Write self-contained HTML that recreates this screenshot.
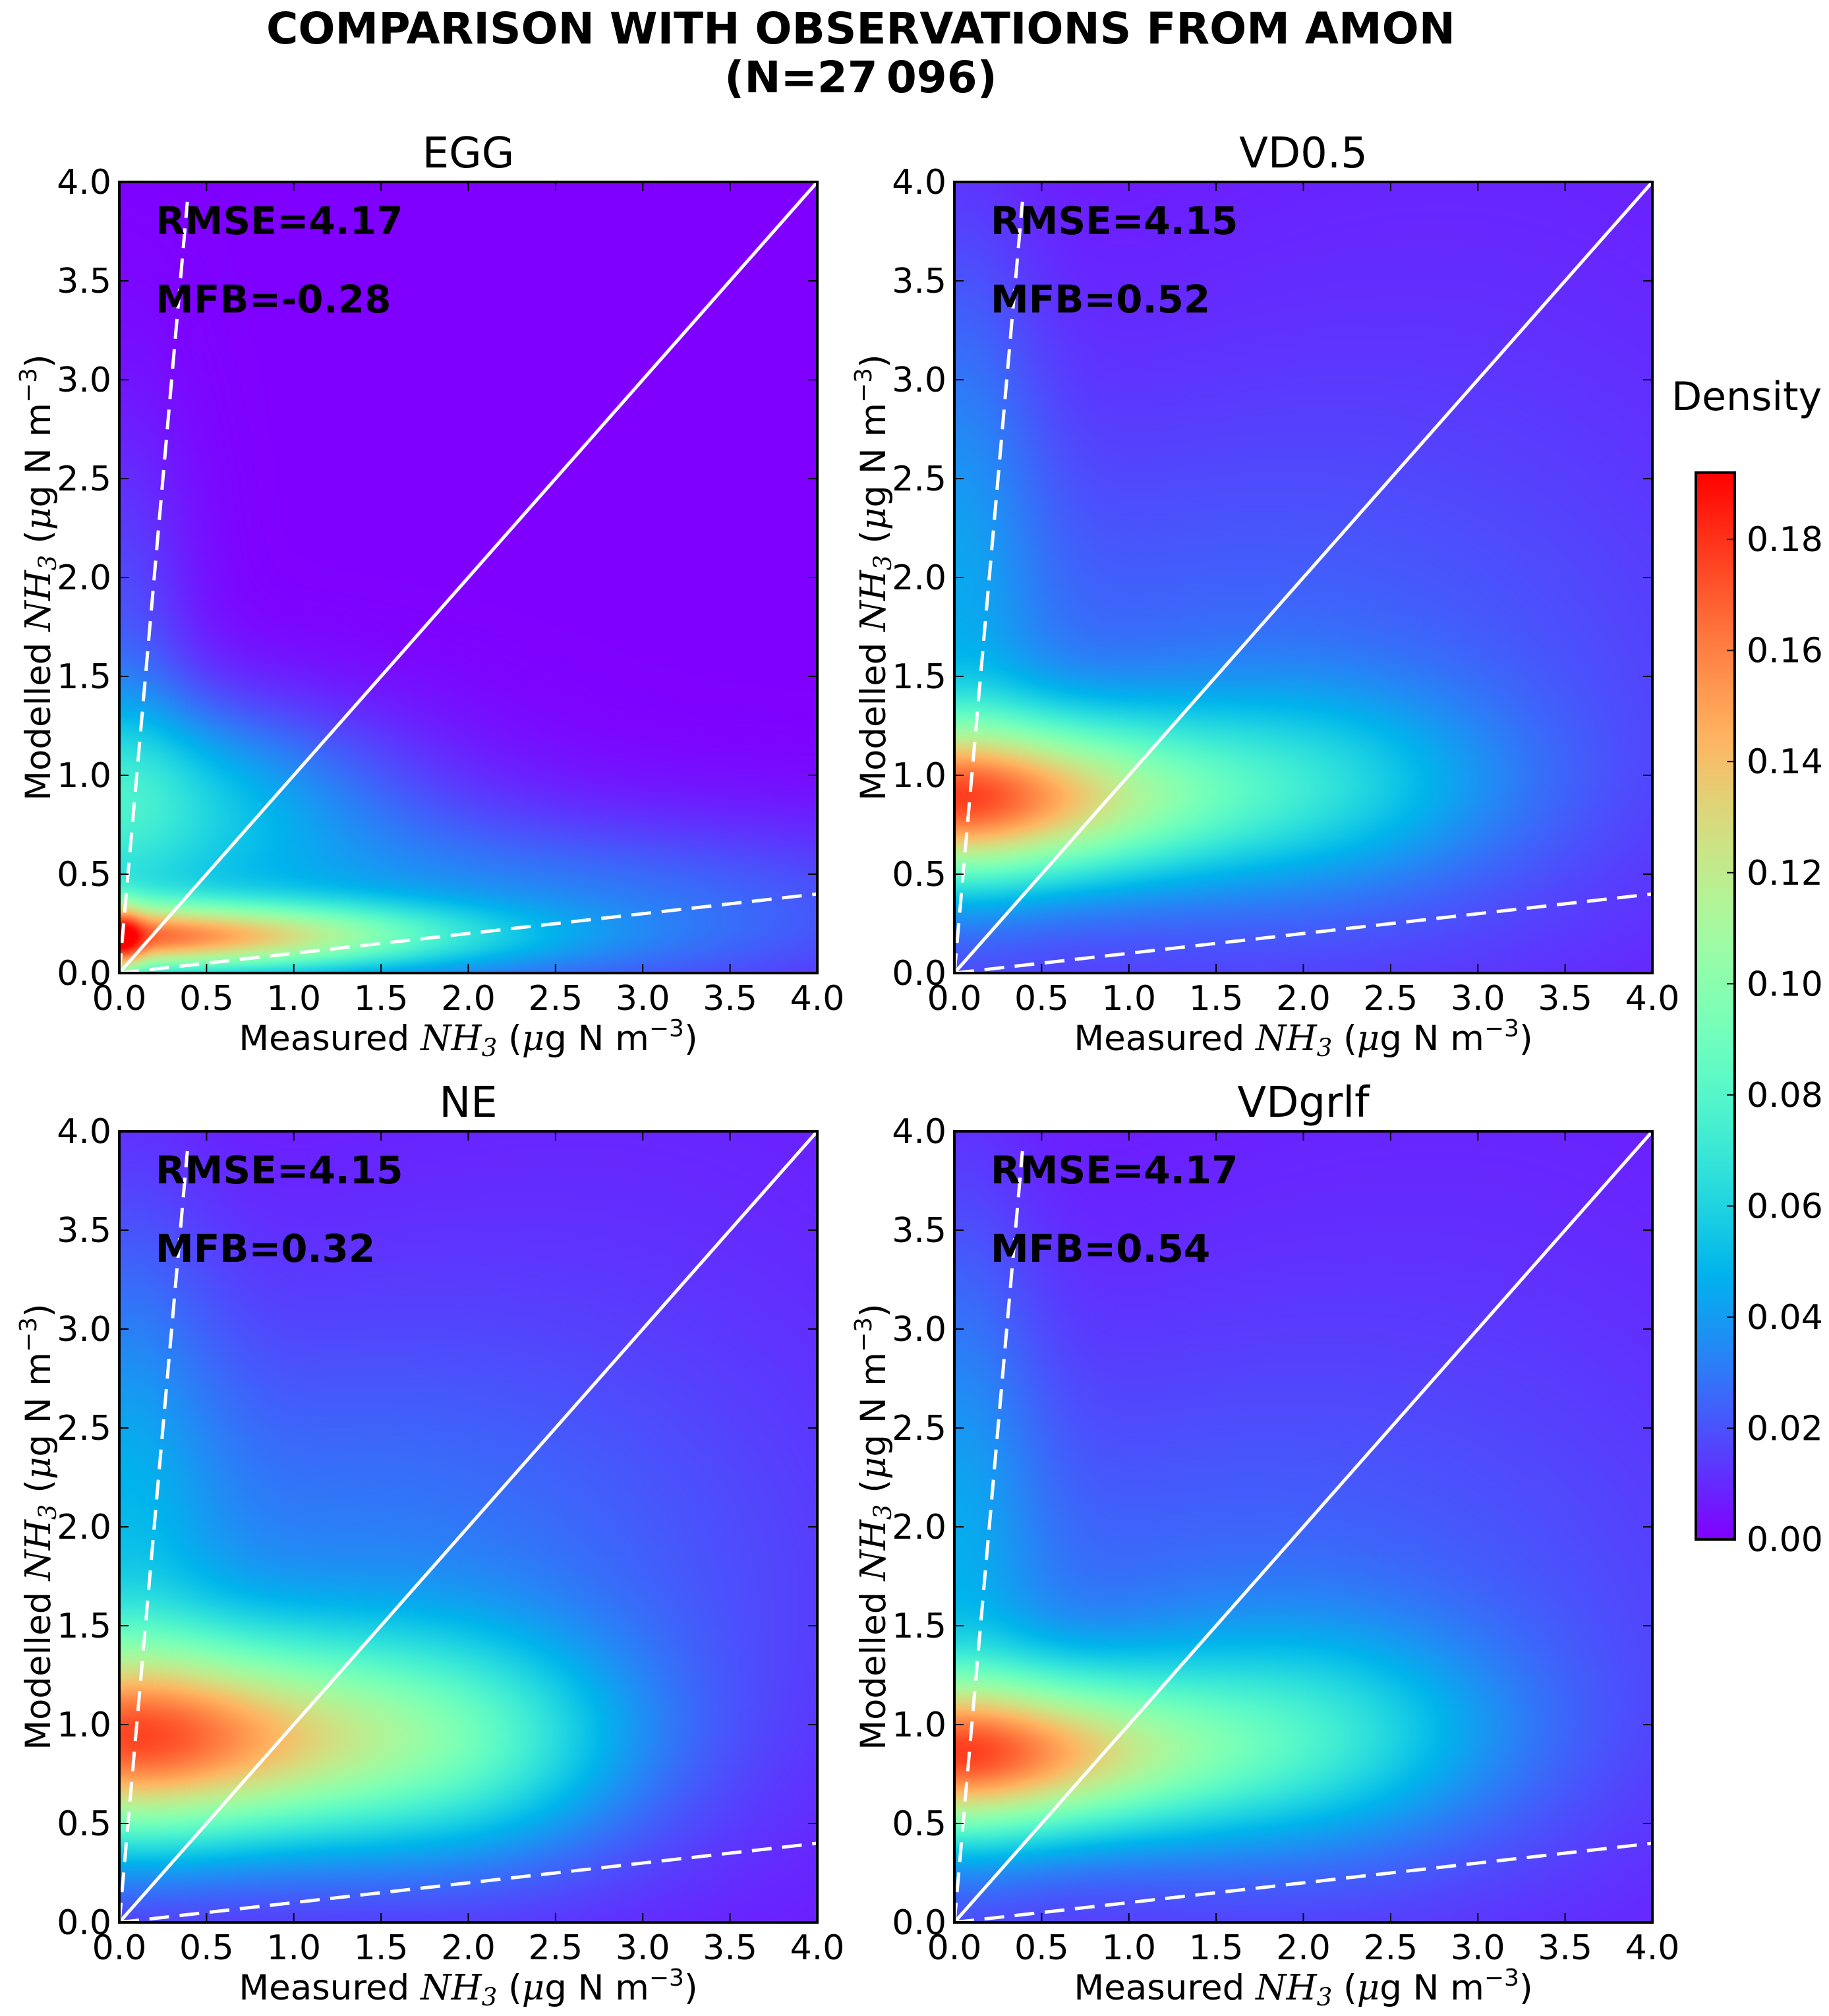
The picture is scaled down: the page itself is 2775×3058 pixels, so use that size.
<!DOCTYPE html>
<html><head><meta charset="utf-8"><style>
html,body{margin:0;padding:0;background:#fff;}
#wrap{position:relative;width:2775px;height:3058px;overflow:hidden;font-family:"DejaVu Sans","Liberation Sans",sans-serif;}
canvas{position:absolute;}
svg{position:absolute;left:0;top:0;font-family:"DejaVu Sans","Liberation Sans",sans-serif;}
</style></head><body>
<div id="wrap">
<svg id="svg" width="2775" height="3058"></svg>
</div>
<script>
// ---- data ----
const panelTitles = ["EGG","VD0.5","NE","VDgrlf"];
const rmseValues = ["4.17","4.15","4.15","4.17"];
const mfbValues = ["-0.28","0.52","0.32","0.54"];
const xTicks = [0,0.5,1,1.5,2,2.5,3,3.5,4];
const yTicks = [0,0.5,1,1.5,2,2.5,3,3.5,4];
const cbTicks = [0,0.02,0.04,0.06,0.08,0.10,0.12,0.14,0.16,0.18];
const cbMax = 0.192;
// density components per panel: [xCenter, yCenter, sx, sy, amplitude]
const compEGG = [[0,0.18,1.2,0.12,0.13],[0,0.9,1.0,0.35,0.055],[1.8,0.3,2.2,0.35,0.035],[0,1.5,0.3,0.9,0.02],[0.02,0.15,0.08,0.15,0.04]];
const compVD05 = [[0,0.88,0.9,0.28,0.14],[2.0,0.95,0.8,0.35,0.035],[1.0,1.2,2.2,1.1,0.02],[0,2.2,0.35,1.2,0.025],[3,2.5,2.5,2.5,0.01]];
const compNE = [[0.1,0.92,1.05,0.35,0.14],[2.0,0.9,0.7,0.4,0.04],[1.0,1.6,1.8,1.0,0.025],[0,2.2,0.4,1.1,0.025],[3,2.5,2.5,2.5,0.01]];
const compVDg = [[0,0.85,0.95,0.28,0.14],[2.0,0.95,0.8,0.38,0.04],[1.0,1.3,2.2,1.1,0.02],[0,2.1,0.35,1.2,0.025],[3,2.5,2.5,2.5,0.01]];
const panelComps = [compEGG, compVD05, compNE, compVDg];
// ---- layout ----
const panels = [{l:181,t:276},{l:1448,t:276},{l:181,t:1716},{l:1448,t:1716}];
const W=1059,H=1200;
const NS="http://www.w3.org/2000/svg";
const svg=document.getElementById('svg');
function mk(tag,attrs,parent){const e=document.createElementNS(NS,tag);for(const k in attrs)e.setAttribute(k,attrs[k]);(parent||svg).appendChild(e);return e;}
function rainbow(v){let x=Math.max(0,Math.min(1,v/cbMax));const r=Math.min(1,Math.abs(2*x-0.5)),g=Math.sin(Math.PI*x),b=Math.cos(Math.PI*x/2);return [r*255,g*255,b*255];}
function density(comps,x,y){let d=0;for(const c of comps){const dx=(x-c[0])/c[2],dy=(y-c[1])/c[3];d+=c[4]*Math.exp(-0.5*(dx*dx+dy*dy));}return d;}

let t=mk('text',{x:1306,y:66,'text-anchor':'middle','font-size':66,'font-weight':'bold'});t.textContent='COMPARISON WITH OBSERVATIONS FROM AMON';

t=mk('text',{x:1306,y:140,'text-anchor':'middle','font-size':66,'font-weight':'bold'});t.textContent='(N=27\u2009096)';


panels.forEach((p,i)=>{
  const sx=v=>p.l+v/4*W, sy=v=>p.t+H-v/4*H;
  const cv=document.createElement('canvas');
  
  
  const gw=265,gh=300;cv.width=gw;cv.height=gh;
  cv.style.left=p.l+'px';cv.style.top=p.t+'px';cv.style.width=W+'px';cv.style.height=H+'px';
  const ctx=cv.getContext('2d');const img=ctx.createImageData(gw,gh);
  for(let r=0;r<gh;r++)for(let c=0;c<gw;c++){
    const x=(c+0.5)/gw*4,y=4-(r+0.5)/gh*4;
    const col=rainbow(density(panelComps[i],x,y));const k=(r*gw+c)*4;
    img.data[k]=col[0];img.data[k+1]=col[1];img.data[k+2]=col[2];img.data[k+3]=255;}
  ctx.putImageData(img,0,0);
  document.getElementById('wrap').insertBefore(cv,svg);
  const g=mk('g',{});
  
  
  let ln=mk('line',{x1:sx(0),y1:sy(0),x2:sx(4),y2:sy(4),stroke:'#fff','stroke-width':5},g);
  
  ln=mk('line',{x1:sx(0),y1:sy(0),x2:sx(0.39),y2:sy(3.9),stroke:'#fff','stroke-width':5,'stroke-dasharray':'30,16'},g);
  
  ln=mk('line',{x1:sx(0),y1:sy(0),x2:sx(4),y2:sy(0.4),stroke:'#fff','stroke-width':5,'stroke-dasharray':'30,16'},g);
  
  const fr=mk('rect',{x:p.l,y:p.t,width:W,height:H,fill:'none',stroke:'#000','stroke-width':4},g);
  
  xTicks.forEach(v=>{
    mk('line',{x1:sx(v),y1:p.t+H,x2:sx(v),y2:p.t+H-14,stroke:'#000','stroke-width':2},g);
    mk('line',{x1:sx(v),y1:p.t,x2:sx(v),y2:p.t+14,stroke:'#000','stroke-width':2},g);
    const tx=mk('text',{x:sx(v),y:p.t+H+56,'text-anchor':'middle','font-size':52},g);tx.textContent=v.toFixed(1);
    
  });
  yTicks.forEach(v=>{
    mk('line',{x1:p.l,y1:sy(v),x2:p.l+14,y2:sy(v),stroke:'#000','stroke-width':2},g);
    mk('line',{x1:p.l+W,y1:sy(v),x2:p.l+W-14,y2:sy(v),stroke:'#000','stroke-width':2},g);
    const tx=mk('text',{x:p.l-12,y:sy(v)+18,'text-anchor':'end','font-size':52},g);tx.textContent=v.toFixed(1);
    
  });
  let tt=mk('text',{x:p.l+W/2,y:p.t-22,'text-anchor':'middle','font-size':64},g);tt.textContent=panelTitles[i];
  
  tt=mk('text',{x:p.l+55,y:p.t+79,'font-size':58,'font-weight':'bold'},g);tt.textContent='RMSE='+rmseValues[i];
  
  tt=mk('text',{x:p.l+55,y:p.t+198,'font-size':58,'font-weight':'bold'},g);tt.textContent='MFB='+mfbValues[i];
  
  const lab='<tspan font-family="DejaVu Serif,Liberation Serif,serif" font-style="italic">NH</tspan><tspan font-family="DejaVu Serif,Liberation Serif,serif" font-style="italic" font-size="37" dy="9">3</tspan><tspan dy="-9"> (</tspan><tspan font-family="DejaVu Serif,serif" font-style="italic">μ</tspan>g N m<tspan font-size="36" dy="-21">−3</tspan><tspan dy="21">)</tspan>';
  tt=mk('text',{x:p.l+W/2,y:p.t+H+117,'text-anchor':'middle','font-size':53},g);
  tt.innerHTML='Measured '+lab;
  
  tt=mk('text',{x:0,y:0,'text-anchor':'middle','font-size':53,transform:`translate(${p.l-105},${p.t+H/2}) rotate(-90)`},g);
  tt.innerHTML='Modelled '+lab;
  
});

const cb={l:2573,t:717,w:59,h:1618};
const defs=mk('defs',{});const lg=mk('linearGradient',{id:'cbg',x1:0,y1:1,x2:0,y2:0},defs);
for(let s=0;s<=20;s++){const c=rainbow(s/20*cbMax);mk('stop',{offset:s/20,'stop-color':`rgb(${c.map(Math.round).join(',')})`},lg);}
const cbr=mk('rect',{x:cb.l,y:cb.t,width:cb.w,height:cb.h,fill:'url(#cbg)',stroke:'#000','stroke-width':4});

const cy=v=>cb.t+cb.h-v/cbMax*cb.h;
cbTicks.forEach(v=>{
  mk('line',{x1:cb.l+cb.w-12,y1:cy(v),x2:cb.l+cb.w,y2:cy(v),stroke:'#000','stroke-width':2});
  const tx=mk('text',{x:cb.l+cb.w+18,y:cy(v)+18,'font-size':52});tx.textContent=v.toFixed(2);
  
});
const dl=mk('text',{x:2650,y:622,'text-anchor':'middle','font-size':60});dl.textContent='Density';

</script>
</body></html>
